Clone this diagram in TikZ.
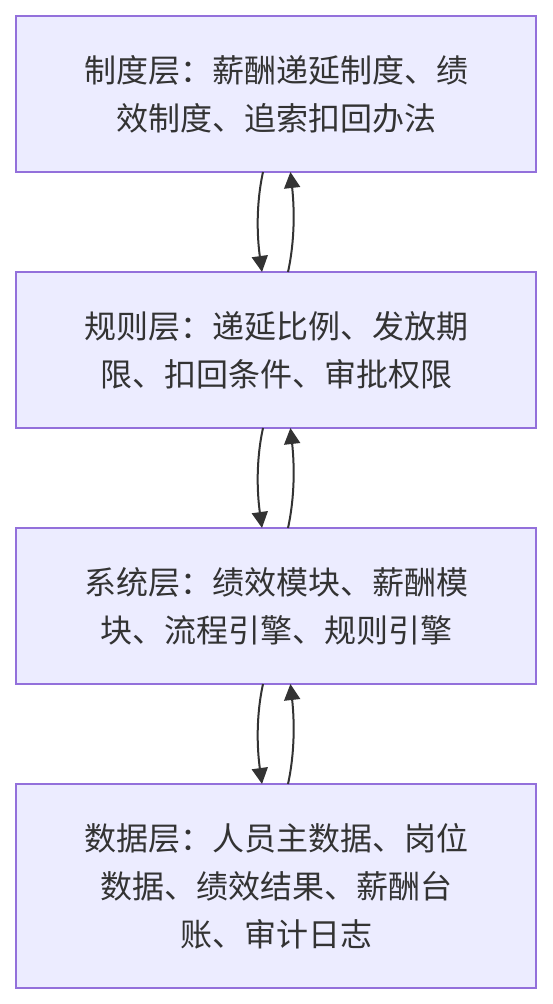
\documentclass[tikz,border=0pt]{standalone}
\usepackage{fontspec}
\newfontfamily\cjk{Noto Sans CJK SC}
\usetikzlibrary{positioning,arrows.meta}
\definecolor{boxfill}{HTML}{ECECFF}
\definecolor{boxline}{HTML}{9370DB}
\definecolor{ink}{HTML}{333333}

\begin{document}
\begin{tikzpicture}[x=0.5pt, y=-0.5pt,
    layer/.style={draw=boxline, fill=boxfill, line width=1pt, outer sep=0pt,
        minimum width=260pt, minimum height=78pt, align=center, text=ink,
        font=\cjk\fontsize{16pt}{24pt}\selectfont},
    link/.style={draw=ink, line width=1pt, -{Triangle[length=8pt,width=8pt]}}]
    \useasboundingbox (0,0) rectangle (552,1004);
    \node[layer] (zhidu) at (276,94) {制度层：薪酬递延制度、绩\\效制度、追索扣回办法};
    \node[layer, below=50pt of zhidu] (guize) {规则层：递延比例、发放期\\限、扣回条件、审批权限};
    \node[layer, below=50pt of guize] (xitong) {系统层：绩效模块、薪酬模\\块、流程引擎、规则引擎};
    \node[layer, below=50pt of xitong, minimum height=102pt] (shuju) {数据层：人员主数据、岗位\\数据、绩效结果、薪酬台\\账、审计日志};
    \foreach \a/\b in {zhidu/guize, guize/xitong, xitong/shuju} {
        \draw[link] ([xshift=-6.5pt]\a.south) .. controls +(-3.5pt,-16pt) and +(-2.5pt,18pt) .. ([xshift=-7pt]\b.north);
        \draw[link] ([xshift=6pt]\b.north) .. controls +(3.5pt,16pt) and +(2pt,-18pt) .. ([xshift=7.2pt]\a.south);
    };
\end{tikzpicture}
\end{document}
